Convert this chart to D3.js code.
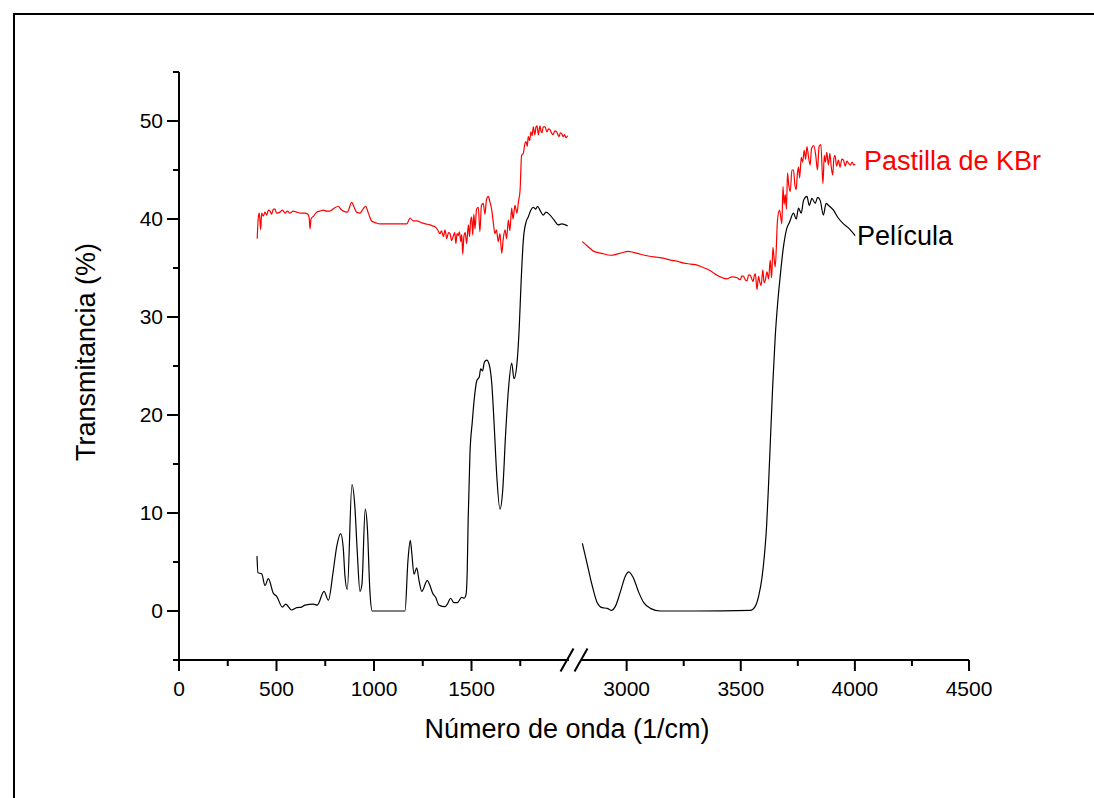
<!DOCTYPE html>
<head>
<meta charset="utf-8">
<script src="https://cdnjs.cloudflare.com/ajax/libs/d3/7.8.5/d3.min.js"></script>
<style>
body { margin: 0; background: #fff; }
svg text { font-family: "Liberation Sans", Arial, sans-serif; }
.axis path, .axis line { stroke: #000; stroke-width: 2px; }
.axis text { font-size: 21px; fill: #000; }
.title { font-size: 27px; }
</style>
</head>
<body>
<svg id="chart" width="1094" height="798"></svg>
<script>
// Película (black), wavenumber / transmittance
var peliculaLeft = [[400,5.6],[405,3.9],[424,3.8],[441,2.6],[458,3.3],[484,1.8],[501,1.5],[530,0.4],[547,0.7],[578,0.1],[604,0.35],[629,0.4],[646,0.6],[689,0.7],[709,0.6],[744,2.0],[766,1.1],[791,4.1],[809,6.6],[829,7.9],[842,6.5],[851,3.6],[863,2.2],[887,12.9],[902,10.6],[914,6.1],[928,2.0],[938,2.7],[955,10.4],[966,8.5],[979,2.0],[991,0],[1159,0],[1174,5.1],[1186,7.2],[1193,6.1],[1205,3.75],[1219,4.4],[1231,3.1],[1245,2.0],[1273,3.1],[1287,2.6],[1301,1.8],[1316,1.4],[1333,0.6],[1364,0.44],[1376,0.7],[1393,1.3],[1410,0.85],[1427,0.85],[1450,1.4],[1462,1.3],[1472,1.7],[1478,4.0],[1483,9.4],[1492,16.0],[1504,19.3],[1514,21.6],[1527,23.5],[1540,23.9],[1547,24.7],[1557,24.5],[1566,25.4],[1578,25.6],[1590,25.2],[1604,23.2],[1617,18.7],[1629,14.0],[1646,10.4],[1660,12.3],[1675,18.1],[1689,22.5],[1706,25.3],[1718,23.7],[1735,25.7],[1745,29],[1754,33.4],[1766,37.9],[1780,39.7],[1791,40.2],[1804,40.9],[1817,41.2],[1829,41.0],[1839,41.3],[1851,40.9],[1868,40.4],[1882,40.7],[1903,40.4],[1923,39.9],[1945,39.4],[1963,39.5],[1993,39.3]];
var peliculaRight = [[2806,6.9],[2827,4.8],[2849,2.6],[2871,0.85],[2893,0.34],[2915,0.27],[2932,0.07],[2951,0.5],[2973,2.0],[2995,3.6],[3009,4.0],[3029,3.4],[3053,1.9],[3075,0.85],[3104,0.27],[3148,0],[3300,0],[3542,0.07],[3564,0.5],[3578,1.5],[3593,3.4],[3604,5.8],[3613,8.6],[3621,12.5],[3630,17.5],[3640,23],[3651,28],[3662,31.5],[3673,34.2],[3685,36.8],[3700,38.9],[3714,39.7],[3731,40.6],[3743,40.0],[3753,41.1],[3765,40.6],[3775,41.9],[3790,42.3],[3800,41.4],[3812,42.1],[3826,41.6],[3837,42.2],[3848,41.9],[3862,40.4],[3874,41.6],[3884,41.4],[3906,40.9],[3927,40.1],[3950,39.5],[3976,39.0],[4001,38.3]];

// Pastilla de KBr (red)
var kbrLeft = [[401,38.0],[407,40.2],[412,40.6],[419,38.9],[424,40.6],[432,40.3],[441,40.7],[450,40.4],[458,40.9],[467,40.8],[475,40.5],[484,41.0],[492,41.0],[500,40.6],[518,40.7],[530,40.9],[544,40.6],[556,40.8],[569,40.6],[586,40.8],[604,40.7],[625,40.6],[646,40.6],[660,40.5],[667,40.2],[672,39.0],[677,40.0],[690,40.3],[706,40.7],[722,40.8],[740,40.9],[757,40.8],[774,40.8],[795,41.1],[817,41.3],[830,41.0],[843,40.8],[863,40.7],[886,41.7],[900,41.1],[911,40.7],[928,40.6],[943,41.0],[957,41.3],[971,40.6],[988,39.8],[1010,39.6],[1031,39.5],[1082,39.5],[1130,39.5],[1168,39.5],[1185,40.1],[1202,39.8],[1220,39.8],[1245,39.6],[1265,39.5],[1287,39.4],[1300,39.3],[1313,39.2],[1326,38.9],[1338,38.5],[1346,38.8],[1356,38.2],[1364,38.9],[1373,38.0],[1382,38.6],[1390,38.5],[1398,37.8],[1407,38.3],[1414,38.6],[1420,37.5],[1426,38.5],[1432,38.3],[1438,38.7],[1445,37.7],[1450,38.4],[1455,36.4],[1461,38.2],[1468,38.6],[1475,37.5],[1484,39.4],[1490,38.2],[1495,39.7],[1501,40.2],[1506,38.4],[1512,40.5],[1518,39.0],[1526,41.0],[1535,41.2],[1543,38.7],[1551,41.4],[1560,41.6],[1569,40.5],[1577,42.0],[1586,42.3],[1594,41.8],[1604,40.9],[1612,39.6],[1620,38.5],[1628,38.9],[1637,37.7],[1646,38.5],[1655,36.5],[1663,38.0],[1672,38.9],[1680,38.0],[1689,39.9],[1697,38.8],[1706,41.1],[1713,40.0],[1723,41.4],[1733,40.6],[1741,41.8],[1749,42.9],[1757,46.5],[1766,46.7],[1772,47.5],[1780,47.9],[1786,47.4],[1791,48.4],[1798,48.0],[1805,48.9],[1811,48.5],[1817,49.4],[1825,48.6],[1831,49.4],[1836,49.5],[1843,48.6],[1851,49.5],[1856,49.0],[1861,48.8],[1868,49.4],[1877,49.4],[1887,48.9],[1895,49.2],[1903,49.1],[1910,48.8],[1918,48.6],[1928,49.0],[1937,48.9],[1943,48.6],[1949,48.4],[1956,48.8],[1963,48.7],[1970,48.4],[1977,48.6],[1985,48.3],[1993,48.5]];
var kbrRight = [[2806,37.7],[2830,37.2],[2856,36.7],[2890,36.5],[2929,36.3],[2970,36.5],[3007,36.7],[3030,36.6],[3061,36.4],[3100,36.2],[3134,36.1],[3160,36.0],[3192,35.8],[3220,35.7],[3250,35.5],[3280,35.4],[3309,35.3],[3330,35.1],[3352,34.9],[3375,34.6],[3396,34.25],[3420,34.0],[3440,33.9],[3462,34.1],[3484,34.0],[3498,33.8],[3505,34.2],[3512,34.15],[3520,33.8],[3527,33.7],[3535,34.3],[3542,34.25],[3548,33.9],[3554,33.6],[3559,34.2],[3564,34.4],[3571,32.8],[3578,34.15],[3583,33.6],[3589,33.2],[3597,34.8],[3602,33.5],[3607,33.7],[3615,34.6],[3622,33.9],[3629,35.8],[3635,34.0],[3641,37.1],[3646,36.0],[3651,35.1],[3661,39.9],[3670,40.9],[3680,39.5],[3685,43.3],[3690,41.5],[3695,42.5],[3700,41.0],[3705,44.7],[3710,43.5],[3717,42.8],[3724,45.0],[3731,45.0],[3737,43.5],[3743,43.0],[3748,44.6],[3753,45.3],[3758,44.2],[3765,46.3],[3771,45.8],[3778,47.0],[3784,46.1],[3790,47.4],[3796,46.5],[3804,45.5],[3810,47.2],[3820,47.5],[3828,46.6],[3836,45.0],[3843,47.4],[3851,47.6],[3860,43.6],[3866,46.5],[3871,45.8],[3877,46.8],[3884,45.5],[3890,46.7],[3897,45.2],[3903,44.5],[3908,46.2],[3913,46.5],[3920,45.4],[3928,46.0],[3935,45.3],[3943,46.1],[3950,46.0],[3958,45.4],[3965,45.9],[3972,45.7],[3980,45.5],[3988,45.8],[3995,45.5],[4001,45.6]];

var xMajorLeft = [0, 500, 1000, 1500];
var xMinorLeft = [250, 750, 1250, 1750];
var xMajorRight = [3000, 3500, 4000, 4500];
var xMinorRight = [3250, 3750, 4250];
var yMajor = [0, 10, 20, 30, 40, 50];
var yMinor = [-5, 5, 15, 25, 35, 45, 55];

var svg = d3.select("#chart");

// outer frame
svg.append("rect").attr("x", 14).attr("y", 14).attr("width", 1200).attr("height", 1000)
    .attr("fill", "none").attr("stroke", "#000").attr("stroke-width", 2);

var xl = d3.scaleLinear().domain([0, 2000]).range([179, 569]);
var xr = d3.scaleLinear().domain([2800, 4500]).range([581, 969]);
var y = d3.scaleLinear().domain([-5, 55]).range([660, 72]);
var x0 = 179, y0 = 660;
var fmt = d3.format("d");

// x axis, two segments
function xAxis(scale, major, minor) {
    var g = svg.append("g").attr("class", "axis").attr("transform", `translate(0,${y0})`);
    g.call(d3.axisBottom(scale).tickValues(major).tickFormat(fmt).tickSize(11).tickSizeOuter(0).tickPadding(10).offset(0));
    g.append("g").call(d3.axisBottom(scale).tickValues(minor).tickSize(6).tickFormat("").offset(0))
        .select(".domain").remove();
    return g;
}
xAxis(xl, xMajorLeft, xMinorLeft);
xAxis(xr, xMajorRight, xMinorRight);

// break marks
[xl(2000) - 2, xr(2800)].forEach(function (bx) {
    svg.append("line").attr("x1", bx - 6.5).attr("y1", y0 + 11.5).attr("x2", bx + 6.5).attr("y2", y0 - 11.5)
        .attr("stroke", "#000").attr("stroke-width", 2);
});

// y axis
var ga = svg.append("g").attr("class", "axis").attr("transform", `translate(${x0},0)`);
ga.call(d3.axisLeft(y).tickValues(yMajor).tickFormat(fmt).tickSize(12).tickSizeOuter(0).tickPadding(4).offset(0));
ga.append("g").call(d3.axisLeft(y).tickValues(yMinor).tickSize(6).tickFormat("").offset(0))
    .select(".domain").remove();

// spectra
function draw(data, scale, color) {
    var line = d3.line().x(d => scale(d[0])).y(d => y(d[1])).curve(d3.curveMonotoneX);
    svg.append("path").datum(data).attr("d", line)
        .attr("fill", "none").attr("stroke", color).attr("stroke-width", 1.2);
}
draw(peliculaLeft, xl, "#000");
draw(peliculaRight, xr, "#000");
draw(kbrLeft, xl, "#ff0000");
draw(kbrRight, xr, "#ff0000");

// labels at the end of each curve
svg.append("text").attr("class", "title").attr("x", xr(4000) + 9).attr("y", y(45.6) + 6)
    .attr("fill", "#ff0000").text("Pastilla de KBr");
svg.append("text").attr("class", "title").attr("x", xr(4000) + 2).attr("y", y(38.3) + 9)
    .attr("fill", "#000").text("Película");

// axis titles
svg.append("text").attr("class", "title").attr("text-anchor", "middle")
    .attr("x", 567).attr("y", 738).text("Número de onda (1/cm)");
svg.append("text").attr("class", "title").attr("text-anchor", "middle")
    .attr("transform", "translate(95,352) rotate(-90)").text("Transmitancia (%)");
</script>
</body>
</html>
